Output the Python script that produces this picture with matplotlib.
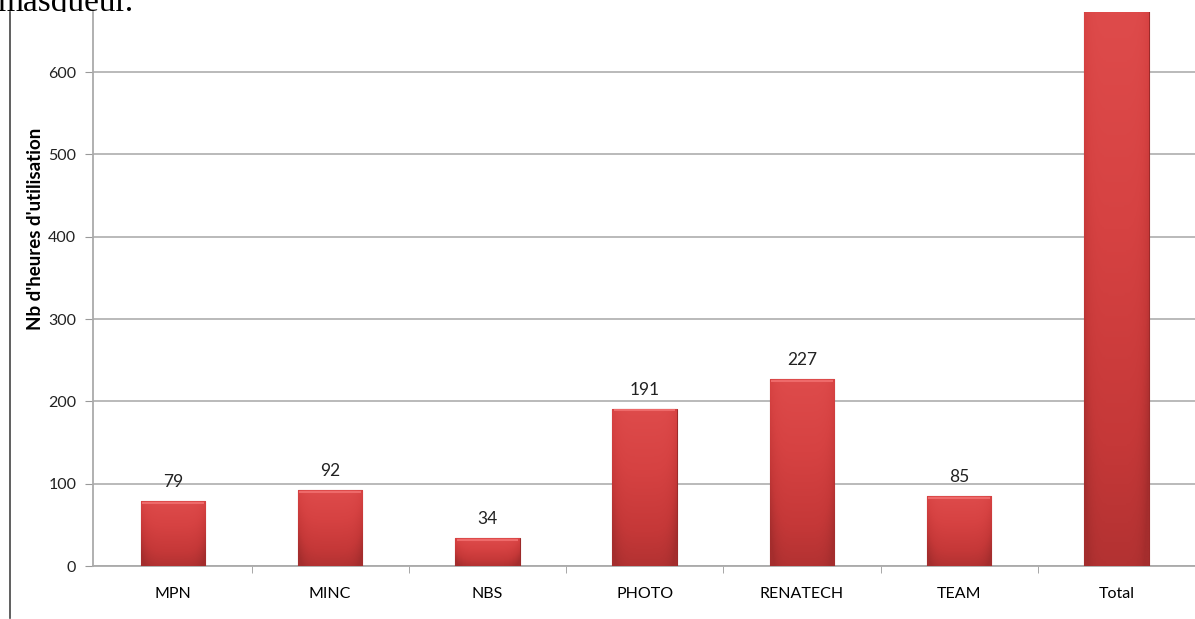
import numpy as np
import matplotlib
matplotlib.use("Agg")
import matplotlib.pyplot as plt
from matplotlib.colors import LinearSegmentedColormap
from matplotlib.lines import Line2D
from matplotlib.patches import Rectangle

categories = ["MPN", "MINC", "NBS", "PHOTO", "RENATECH", "TEAM", "Total"]
hours = [79, 92, 34, 191, 227, 85, 708]
yticks = [0, 100, 200, 300, 400, 500, 600]

plt.rcParams['font.family'] = ['Lato', 'DejaVu Sans']

fig = plt.figure(figsize=(11.95, 6.19), dpi=100)
ax = fig.add_axes([93 / 1195, 1 - 566 / 619, 1 - 93 / 1195, (566 - 12) / 619])
ymax = 673

x = np.arange(len(categories))
bars = ax.bar(x, hours, width=0.41, color="#cc3b3b", edgecolor="#9c2a2a",
              linewidth=0.8, zorder=3)

# gradient fill clipped to each bar
cmap = LinearSegmentedColormap.from_list("redgrad", ["#a42d2d", "#c53838", "#d64242", "#de4b4b"])
grad = np.linspace(0, 1, 256).reshape(-1, 1)
shade = np.abs(np.linspace(-1, 1, 64))
for b in bars:
    x0, w, h = b.get_x(), b.get_width(), b.get_height()
    top = min(h, ymax)
    img = grad * 0.85 + 0.15 - 0.3 * shade[None, :] ** 5
    im = ax.imshow(img, cmap=cmap, origin="lower", aspect="auto",
                   extent=[x0, x0 + w, 0, top], vmin=0, vmax=1, zorder=3)
    im.set_clip_path(b)
    if h < ymax:
        # light rim at the top
        ax.plot([x0 + 0.01, x0 + w - 0.01], [h - 2, h - 2], color="#ee6a6a",
                lw=1.5, zorder=4, solid_capstyle="butt")

for xi, v in zip(x, hours):
    if v < ymax:
        ax.annotate(str(v), (xi, v), xytext=(0, 8), textcoords="offset points",
                    ha="center", va="bottom", fontsize=12.5, color="#222222")

ax.set_xlim(-0.508, 6.49)
ax.set_ylim(0, ymax)
ax.set_yticks(yticks)
ax.set_xticks(x)
ax.set_xticklabels(categories, fontsize=11.5)
ax.set_xticks(np.arange(len(categories)) + 0.5, minor=True)
ax.tick_params(axis="x", which="major", length=0, pad=15)
ax.tick_params(axis="x", which="minor", length=5, color="#999999", direction="out")
ax.tick_params(axis="y", length=6, color="#999999", labelsize=11.5, pad=6, labelcolor="#222222")
ax.yaxis.grid(True, color="#b4b4b4", linewidth=1.3, zorder=0)
ax.set_axisbelow(True)
for s in ["top", "right"]:
    ax.spines[s].set_visible(False)
ax.spines["left"].set_color("#aaaaaa")
ax.spines["left"].set_linewidth(1.3)
ax.spines["bottom"].set_color("#aaaaaa")
ax.spines["bottom"].set_linewidth(1.3)

ax.set_ylabel("Nb d'heures d'utilisation", fontsize=13.5, fontweight="bold")
ax.yaxis.set_label_coords(-0.0445, 0.609)

# left frame line and clipped caption text
fig.add_artist(Line2D([10 / 1195, 10 / 1195], [1 - 618 / 619, 1 - 12 / 619],
                      color="#444444", lw=1.2, zorder=1))
fig.add_artist(Rectangle((0, 0), 1, 1 - 12 / 619, transform=fig.transFigure,
                         facecolor="white", edgecolor="none", zorder=-0.5))
fig.text(-0.002, 1 - 11 / 619, "masqueur.", fontsize=24, family=["Liberation Serif", "DejaVu Serif"],
         ha="left", va="baseline", color="black", zorder=-1)

fig.savefig("out.png", dpi=100)
